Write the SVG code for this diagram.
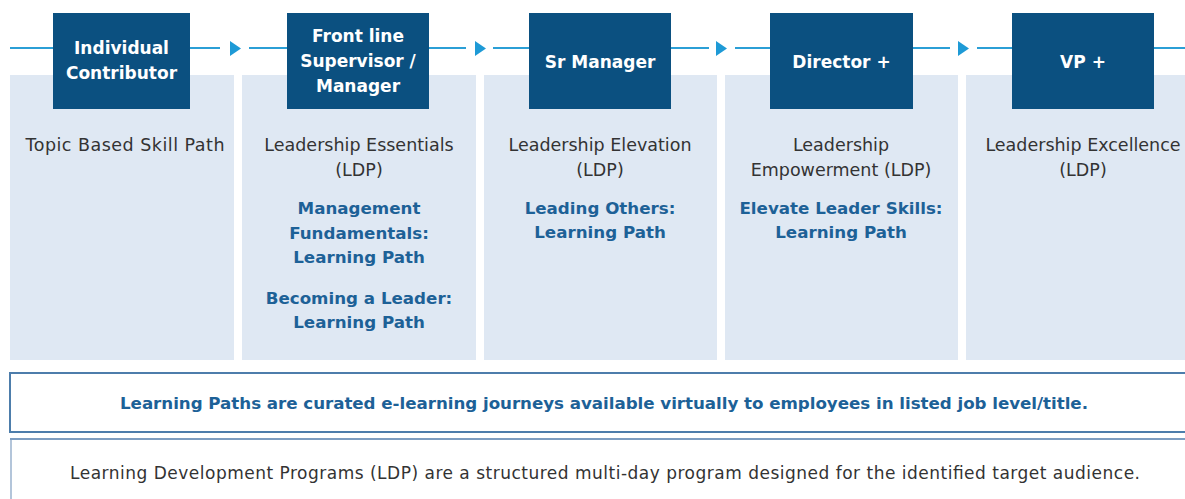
<svg xmlns="http://www.w3.org/2000/svg" width="1185" height="499" viewBox="0 0 1185 499">
<style>
.panel{fill:#dfe8f3}
.box{fill:#0b5080}
.bt{fill:#ffffff;font-family:"DejaVu Sans",sans-serif;font-weight:bold;font-size:17px;text-anchor:middle}
.gt{fill:#333333;font-family:"DejaVu Sans",sans-serif;font-size:17.5px;text-anchor:middle}
.lt{fill:#1d6197;font-family:"DejaVu Sans",sans-serif;font-weight:bold;font-size:16.7px;text-anchor:middle}
.ln{stroke:#2b9fd6;stroke-width:2;fill:none}
.ar{fill:#1e9ad6}
</style>
<rect width="1185" height="499" fill="#ffffff"/>
<g id="panels">
<rect class="panel" x="10" y="75" width="224" height="285"/>
<rect class="panel" x="242" y="75" width="234" height="285"/>
<rect class="panel" x="484" y="75" width="233" height="285"/>
<rect class="panel" x="725" y="75" width="233" height="285"/>
<rect class="panel" x="966" y="75" width="219" height="285"/>
</g>
<g id="connectors">
<line class="ln" x1="10" y1="48" x2="53" y2="48"/>
<line class="ln" x1="190" y1="48" x2="220" y2="48"/>
<polygon class="ar" points="230,41 241,48.5 230,56"/>
<line class="ln" x1="249" y1="48" x2="287" y2="48"/>
<line class="ln" x1="429" y1="48" x2="466" y2="48"/>
<polygon class="ar" points="475,41 486,48.5 475,56"/>
<line class="ln" x1="493" y1="48" x2="529" y2="48"/>
<line class="ln" x1="671" y1="48" x2="709" y2="48"/>
<polygon class="ar" points="716,41 727,48.5 716,56"/>
<line class="ln" x1="735" y1="48" x2="770" y2="48"/>
<line class="ln" x1="913" y1="48" x2="950" y2="48"/>
<polygon class="ar" points="958,41 969,48.5 958,56"/>
<line class="ln" x1="977" y1="48" x2="1012" y2="48"/>
<line class="ln" x1="1154" y1="48" x2="1185" y2="48"/>
</g>
<g id="node-individual">
<rect class="box" x="53" y="13" width="137" height="96"/>
<text class="bt" x="121.5" y="54">Individual</text>
<text class="bt" x="121.5" y="79">Contributor</text>
<text class="gt" x="125" y="151" textLength="199">Topic Based Skill Path</text>
</g>
<g id="node-frontline">
<rect class="box" x="287" y="13" width="142" height="96"/>
<text class="bt" x="358" y="42">Front line</text>
<text class="bt" x="358" y="67">Supervisor /</text>
<text class="bt" x="358" y="92">Manager</text>
<text class="gt" x="359" y="151">Leadership Essentials</text>
<text class="gt" x="359" y="176">(LDP)</text>
<text class="lt" x="359" y="214">Management</text>
<text class="lt" x="359" y="239">Fundamentals:</text>
<text class="lt" x="359" y="263">Learning Path</text>
<text class="lt" x="359" y="304">Becoming a Leader:</text>
<text class="lt" x="359" y="328">Learning Path</text>
</g>
<g id="node-srmanager">
<rect class="box" x="529" y="13" width="142" height="96"/>
<text class="bt" x="600" y="68">Sr Manager</text>
<text class="gt" x="600" y="151">Leadership Elevation</text>
<text class="gt" x="600" y="176">(LDP)</text>
<text class="lt" x="600" y="214">Leading Others:</text>
<text class="lt" x="600" y="238">Learning Path</text>
</g>
<g id="node-director">
<rect class="box" x="770" y="13" width="143" height="96"/>
<text class="bt" x="841.5" y="68">Director +</text>
<text class="gt" x="841" y="151">Leadership</text>
<text class="gt" x="841" y="176">Empowerment (LDP)</text>
<text class="lt" x="841" y="214">Elevate Leader Skills:</text>
<text class="lt" x="841" y="238">Learning Path</text>
</g>
<g id="node-vp">
<rect class="box" x="1012" y="13" width="142" height="96"/>
<text class="bt" x="1083" y="68">VP +</text>
<text class="gt" x="1083" y="151">Leadership Excellence</text>
<text class="gt" x="1083" y="176">(LDP)</text>
</g>
<g id="note-paths">
<rect x="10" y="373" width="1190" height="59" fill="#ffffff" stroke="#4d7dab" stroke-width="2"/>
<text class="lt" x="604" y="409" textLength="968">Learning Paths are curated e-learning journeys available virtually to employees in listed job level/title.</text>
</g>
<g id="note-ldp">
<rect x="11" y="439" width="1190" height="80" fill="#ffffff" stroke="#b3c5da" stroke-width="2"/>
<line x1="10" y1="439" x2="1185" y2="439" stroke="#7d9dc1" stroke-width="2"/>
<text class="gt" x="605" y="479" textLength="1070" style="font-size:17px">Learning Development Programs (LDP) are a structured multi-day program designed for the identified target audience.</text>
</g>
</svg>
